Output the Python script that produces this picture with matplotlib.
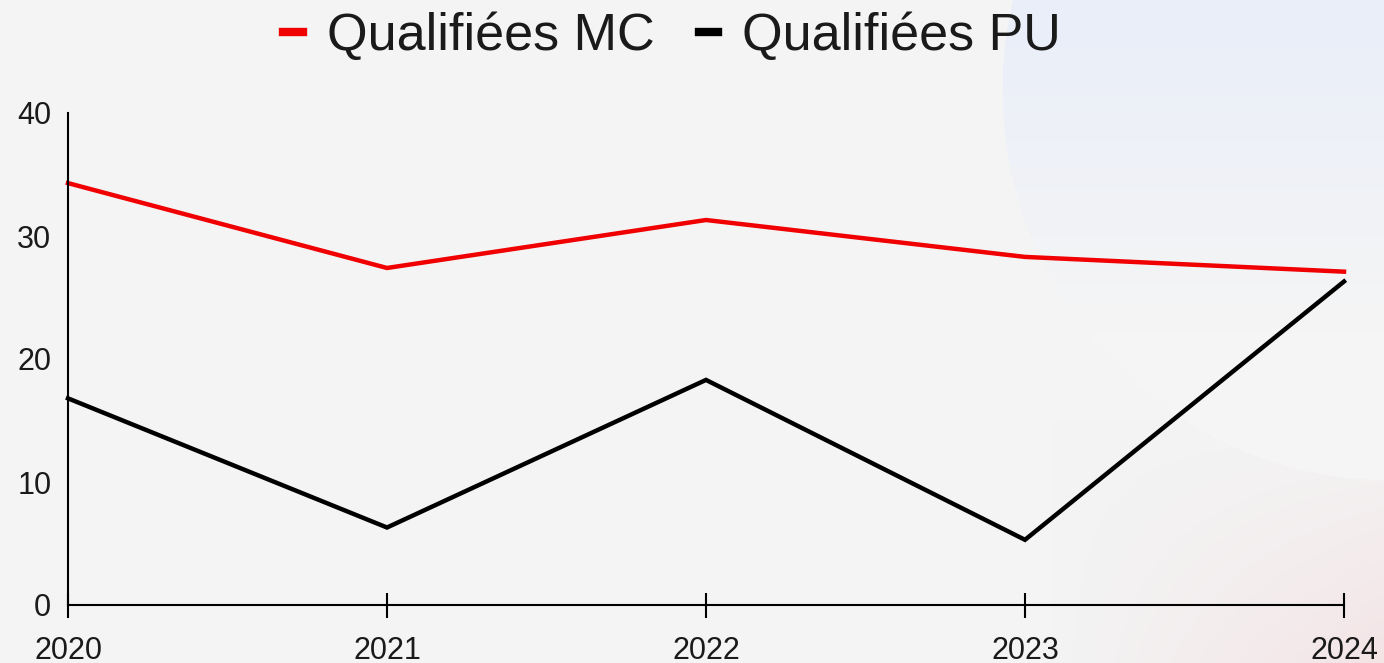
import numpy as np
import matplotlib
matplotlib.use("Agg")
import matplotlib.pyplot as plt
from matplotlib.lines import Line2D

plt.rcParams["font.family"] = ["Liberation Sans", "DejaVu Sans"]

years = [2020, 2021, 2022, 2023, 2024]
mc_values = [34.3, 27.4, 31.3, 28.3, 27.1]
pu_values = [16.8, 6.3, 18.3, 5.3, 26.3]
series_labels = ["Qualifiées MC", "Qualifiées PU"]
y_ticks = [0, 10, 20, 30, 40]

W, H = 1384, 663
fig = plt.figure(figsize=(W / 100, H / 100), dpi=100)

# background: soft bluish circle top-right, pink tint bottom-right
bg = fig.add_axes([0, 0, 1, 1])
yy, xx = np.mgrid[0:H, 0:W]
img = np.ones((H, W, 3)) * np.array([244, 244, 244]) / 255
cx, cy, r = 1392, 90, 390
d = np.sqrt((xx - cx) ** 2 + (yy - cy) ** 2)
inside = d < r
t = np.clip(1 - yy / 330, 0, 1)
blue = np.array([233, 238, 249]) / 255
base_in = np.array([245, 245, 245]) / 255
circ = base_in + (blue - base_in) * t[..., None]
img[inside] = circ[inside]
pink = np.array([243, 228, 230]) / 255
pw = np.clip((xx - 1050) / 334, 0, 1) * np.clip((yy - 420) / 243, 0, 1)
pw[inside] = 0
img = img + (pink - img) * pw[..., None]
bg.imshow(img, extent=[0, W, H, 0], aspect="auto")
bg.set_axis_off()

ax = fig.add_axes([68 / W, 58 / H, (1344 - 68) / W, (605 - 113) / H])
ax.patch.set_alpha(0)
ax.plot(years, mc_values, color="#f00000", lw=3.2, clip_on=False, solid_joinstyle="miter")
ax.plot(years, pu_values, color="black", lw=3.2, clip_on=False, solid_joinstyle="miter")

ax.set_xlim(2020, 2024)
ax.set_ylim(0, 40)
ax.set_xticks(years)
ax.set_yticks(y_ticks)
for s in ["top", "right"]:
    ax.spines[s].set_visible(False)
for s in ["left", "bottom"]:
    ax.spines[s].set_linewidth(1.5)
ax.tick_params(axis="x", direction="inout", length=18, width=1.5, pad=13,
               labelsize=22, labelcolor="#1a1a1a")
ax.tick_params(axis="y", length=0, pad=12, labelsize=22, labelcolor="#1a1a1a")

handles = [Line2D([], [], color="#f00000", lw=6),
           Line2D([], [], color="black", lw=6)]
fig.legend(handles, series_labels, loc="center", bbox_to_anchor=(672 / W, 1 - 37 / H),
           ncol=2, frameon=False, fontsize=37.5, handlelength=0.38,
           handletextpad=0.45, columnspacing=0.85, labelcolor="#1a1a1a")

fig.savefig("out.png", dpi=100)
